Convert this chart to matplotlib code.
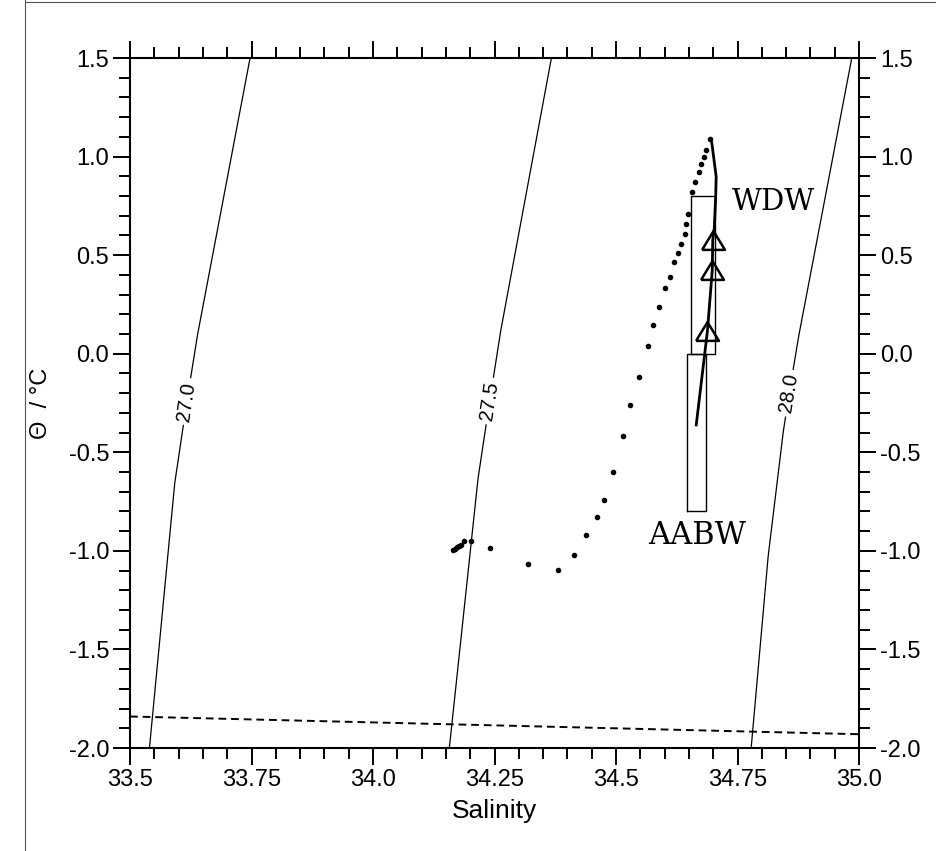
import matplotlib
matplotlib.use("Agg")
import matplotlib.pyplot as plt
from matplotlib.lines import Line2D
from matplotlib.ticker import MultipleLocator, FixedLocator
import numpy as np

plt.rcParams['font.family'] = ['Liberation Sans', 'DejaVu Sans']

# --- station profile (dotted CTD trace): salinity, potential temperature
prof_s = [34.165, 34.168, 34.172, 34.176, 34.180, 34.188, 34.202, 34.241,
          34.318, 34.381, 34.414, 34.439, 34.460, 34.475, 34.494, 34.515,
          34.529, 34.548, 34.565, 34.576, 34.588, 34.600, 34.610, 34.620,
          34.627, 34.634, 34.641, 34.644, 34.648, 34.657, 34.663, 34.670,
          34.675, 34.680, 34.686, 34.694]
prof_t = [-0.995, -0.990, -0.982, -0.975, -0.969, -0.952, -0.948, -0.984,
          -1.066, -1.098, -1.022, -0.917, -0.826, -0.740, -0.599, -0.415,
          -0.262, -0.118, 0.038, 0.145, 0.237, 0.332, 0.387, 0.463,
          0.509, 0.557, 0.608, 0.659, 0.711, 0.820, 0.871, 0.922,
          0.961, 0.998, 1.033, 1.087]

# --- deep profile (solid line) and bottle samples (triangles)
deep_s = [34.697, 34.706, 34.705, 34.702, 34.699, 34.698, 34.688, 34.665]
deep_t = [1.070, 0.898, 0.796, 0.634, 0.578, 0.424, 0.115, -0.361]
bottle_s = [34.699, 34.698, 34.688]
bottle_t = [0.578, 0.424, 0.115]

# --- water-mass boxes: (S min, S max, theta min, theta max)
wdw_box = (34.655, 34.703, 0.0, 0.80)
aabw_box = (34.646, 34.686, -0.80, 0.0)

# --- isopycnals (sigma-theta), points along each curve
iso_levels = ['27.0', '27.5', '28.0']
iso_s = [[33.540, 33.592, 33.617, 33.639, 33.747],
         [34.157, 34.216, 34.240, 34.263, 34.367],
         [34.778, 34.813, 34.844, 34.854, 34.876, 34.985]]
iso_t = [[-2.0, -0.657, -0.242, 0.097, 1.5],
         [-2.0, -0.634, -0.240, 0.120, 1.5],
         [-2.0, -1.027, -0.397, -0.234, 0.092, 1.5]]
# label anchor on each isopycnal
iso_lab_s = [33.617, 34.240, 34.856]
iso_lab_t = [-0.242, -0.240, -0.200]

# --- surface freezing point (dashed)
frz_s = [33.5, 35.0]
frz_t = [-1.84, -1.93]

fig = plt.figure(figsize=(9.36, 8.51), dpi=100)
ax = fig.add_axes([0.1389, 0.1210, 0.7789, 0.8108])
ax.set_xlim(33.5, 35.0)
ax.set_ylim(-2.0, 1.5)

# isopycnals with inline labels
for lev, s, t, ls_, lt_ in zip(iso_levels, iso_s, iso_t, iso_lab_s, iso_lab_t):
    ax.plot(s, t, color='black', lw=0.9, zorder=2)
    # local direction of the curve at the label, in data units
    i = int(np.searchsorted(t, lt_))
    i = min(max(i, 1), len(t) - 1)
    ang = np.degrees(np.arctan2(t[i] - t[i - 1], s[i] - s[i - 1]))
    ax.text(ls_, lt_, lev, rotation=ang, transform_rotates_text=True,
            rotation_mode='anchor', ha='center', va='center',
            fontsize=14.5, zorder=3,
            bbox=dict(boxstyle='square,pad=0.2', fc='white', ec='none'))

# freezing line
ax.plot(frz_s, frz_t, color='black', lw=1.4, ls=(0, (4, 2.5)), zorder=2)

# water-mass boxes
for (s0, s1, t0, t1) in (wdw_box, aabw_box):
    ax.plot([s0, s1, s1, s0, s0], [t0, t0, t1, t1, t0],
            color='black', lw=1.0, zorder=2)

# CTD profile
ax.plot(prof_s, prof_t, ls='none', marker='o', ms=3.0, color='black',
        zorder=4)

# deep profile and bottles
ax.plot(deep_s, deep_t, color='black', lw=2.0, zorder=4)
tri = [(-1, -0.82), (1, -0.82), (0, 0.82), (-1, -0.82)]
ax.plot(bottle_s, bottle_t, ls='none', marker=tri, ms=16.5, mfc='none',
        mec='black', mew=1.8, zorder=5)

ax.text(34.824, 0.770, 'WDW', family='DejaVu Serif', fontsize=21,
        ha='center', va='center')
ax.text(34.667, -0.923, 'AABW', family='DejaVu Serif', fontsize=22,
        ha='center', va='center')

# axes, ticks on all four sides pointing outward
for sp in ax.spines.values():
    sp.set_linewidth(1.5)
ax.xaxis.set_major_locator(FixedLocator([33.5, 33.75, 34.0, 34.25, 34.5, 34.75, 35.0]))
ax.xaxis.set_minor_locator(MultipleLocator(0.05))
ax.yaxis.set_major_locator(MultipleLocator(0.5))
ax.yaxis.set_minor_locator(MultipleLocator(0.1))
ax.set_xticklabels(['33.5', '33.75', '34.0', '34.25', '34.5', '34.75', '35.0'])
ax.set_yticks([-2.0, -1.5, -1.0, -0.5, 0.0, 0.5, 1.0, 1.5])
ax.set_yticklabels(['-2.0', '-1.5', '-1.0', '-0.5', '0.0', '0.5', '1.0', '1.5'])
ax.tick_params(which='both', direction='out', top=True, right=True,
               labelright=True, labeltop=False, labelsize=17, width=1.4)
ax.tick_params(which='major', length=12, pad=3)
ax.tick_params(which='minor', length=8)

ax.set_xlabel('Salinity', fontsize=19, labelpad=6)
ax.set_ylabel('\u0398  / \u00b0C', fontsize=17, labelpad=12)

# page edge of the printed sheet
fig.add_artist(Line2D([25 / 936, 25 / 936], [0, 1], color='#555555', lw=0.8))
fig.add_artist(Line2D([25 / 936, 1], [0.998, 0.998], color='#555555', lw=0.8))

fig.savefig('out.png', dpi=100)
